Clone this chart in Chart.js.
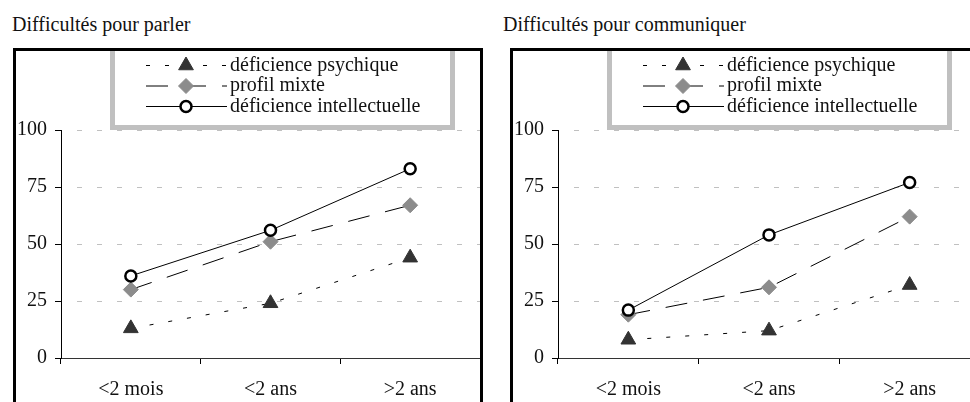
<!DOCTYPE html>
<html>
<head>
<meta charset="utf-8">
<script src="https://cdn.jsdelivr.net/npm/chart.js@4"></script>
<style>
body { margin: 0; width: 970px; height: 402px; overflow: hidden; background: #fff; position: relative; font-family: "Liberation Serif", serif; }
.title { position: absolute; top: 13px; font-size: 20px; line-height: 22px; color: #111; }
.frame { position: absolute; top: 48px; height: 380px; border: 3px solid #000; }
.frame canvas { position: absolute; left: 0; top: 0; }
</style>
</head>
<body>
<div class="title" style="left:12px">Difficultés pour parler</div>
<div class="title" style="left:503px">Difficultés pour communiquer</div>
<div class="frame" style="left:13px;width:464px"><canvas id="parler" width="464" height="360"></canvas></div>
<div class="frame" style="left:510px;width:467px"><canvas id="communiquer" width="467" height="360"></canvas></div>
<script>
const categories = ["<2 mois", "<2 ans", ">2 ans"]
const seriesNames = ["déficience psychique", "profil mixte", "déficience intellectuelle"]
const yTicks = [0, 25, 50, 75, 100]

const parlerPsychique = [13, 24, 44]
const parlerMixte = [30, 51, 67]
const parlerIntellectuelle = [36, 56, 83]

const communiquerPsychique = [8, 12, 32]
const communiquerMixte = [19, 31, 62]
const communiquerIntellectuelle = [21, 54, 77]

const serif = "Liberation Serif"

// legend drawn as a grey box with line sample + marker + label
const legendBox = {
    id : "legendBox",
    afterDraw(chart) {
        const ctx = chart.ctx
        ctx.save()
        ctx.fillStyle = "#fff"
        ctx.fillRect(94, 0, 345, 79)
        ctx.strokeStyle = "#c0c0c0"
        ctx.lineWidth = 5
        ctx.strokeRect(96.5, -2.5, 340, 79)
        chart.data.datasets.forEach((ds, i) => {
            const y = 14.5 + i * 20.5
            ctx.strokeStyle = ds.borderColor
            ctx.lineWidth = 1
            ctx.setLineDash(ds.borderDash || [])
            ctx.beginPath()
            ctx.moveTo(130, y)
            ctx.lineTo(211, y)
            ctx.stroke()
            ctx.setLineDash([])
            ctx.fillStyle = ds.pointBackgroundColor
            ctx.strokeStyle = ds.pointBorderColor
            ctx.lineWidth = ds.pointBorderWidth
            Chart.helpers.drawPoint(ctx, {
                pointStyle : ds.pointStyle,
                radius : ds.pointRadius,
                borderWidth : ds.pointBorderWidth,
                rotation : 0,
            }, 170, y)
            ctx.fillStyle = "#111"
            ctx.font = "20px '" + serif + "'"
            ctx.textBaseline = "middle"
            ctx.textAlign = "left"
            ctx.fillText(ds.label, 214, y)
        })
        ctx.restore()
    },
}

const makeChart = (id, psychique, mixte, intellectuelle) => new Chart(document.getElementById(id).getContext("2d"), {
    type : "line",
    data : {
        labels : categories,
        datasets : [{
            label : seriesNames[0],
            data : psychique,
            borderColor : "#000",
            borderWidth : 1,
            borderDash : [4, 15],
            pointStyle : "triangle",
            pointRadius : 8.5,
            pointBackgroundColor : "#333",
            pointBorderColor : "#333",
            pointBorderWidth : 1,
            order : 2,
        }, {
            label : seriesNames[1],
            data : mixte,
            borderColor : "#000",
            borderWidth : 1,
            borderDash : [22, 16],
            pointStyle : "rectRot",
            pointRadius : 7.5,
            pointBackgroundColor : "#8c8c8c",
            pointBorderColor : "#8c8c8c",
            pointBorderWidth : 1,
            order : 1,
        }, {
            label : seriesNames[2],
            data : intellectuelle,
            borderColor : "#000",
            borderWidth : 1,
            pointStyle : "circle",
            pointRadius : 5.5,
            pointBackgroundColor : "#fff",
            pointBorderColor : "#000",
            pointBorderWidth : 2.5,
            order : 0,
        }],
    }, options : {
        responsive : false,
        animation : false,
        tension : 0,
        layout : {
            autoPadding : false,
            padding : { top : 79, left : 0, right : 0, bottom : 0 },
        },
        scales : {
            x : {
                offset : true,
                grid : {
                    offset : true,
                    drawOnChartArea : false,
                    tickLength : 6,
                    tickColor : "#000",
                },
                border : { color : "#333", width : 1 },
                ticks : {
                    padding : 14,
                    color : "#111",
                    font : { family : serif, size : 20 },
                },
                afterFit : scale => {
                    scale.height = 53
                    scale.paddingLeft = 0
                    scale.paddingRight = 0
                },
            },
            y : {
                min : 0,
                max : 100,
                afterBuildTicks : scale => { scale.ticks = yTicks.map(v => ({ value : v })) },
                grid : {
                    color : c => c.tick && c.tick.value === 0 ? "rgba(0,0,0,0)" : "#c0c0c0",
                    tickColor : "#000",
                    tickLength : 6,
                },
                border : { color : "#000", width : 1, dash : [5, 15], dashOffset : 5 },
                ticks : {
                    padding : 8,
                    color : "#111",
                    font : { family : serif, size : 20 },
                },
                afterFit : scale => { scale.width = 45 },
            },
        }, plugins : {
            legend : { display : false },
            tooltip : { enabled : false },
        },
    },
    plugins : [legendBox],
})

makeChart("parler", parlerPsychique, parlerMixte, parlerIntellectuelle)
makeChart("communiquer", communiquerPsychique, communiquerMixte, communiquerIntellectuelle)
</script>
</body>
</html>
